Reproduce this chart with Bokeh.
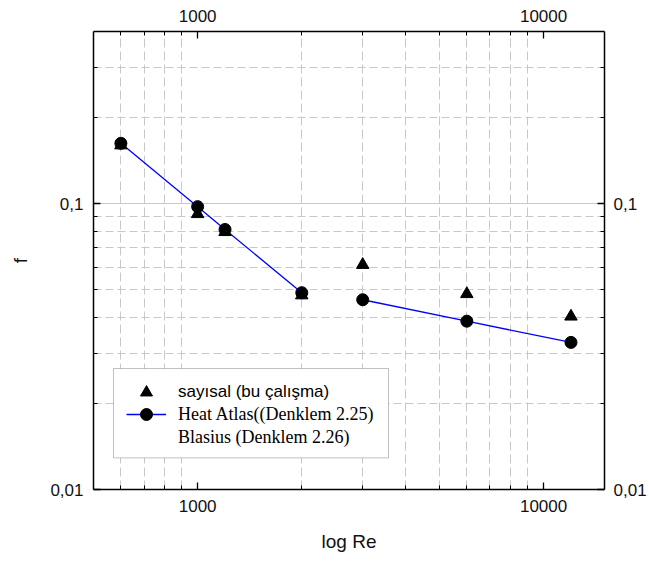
from bokeh.plotting import figure
from bokeh.models import (LogAxis, FixedTicker, CustomJSTickFormatter, Legend,
                          LegendItem, BoxAnnotation)
from bokeh.embed import file_html
from bokeh.resources import INLINE

# ---- data ----
re_num = [600, 1000, 1200, 2000, 3000, 6000, 12000]
f_num = [0.160, 0.092, 0.0796, 0.0478, 0.0611, 0.0483, 0.0403]

re_lam = [600, 1000, 1200, 2000]
f_lam = [0.1625, 0.0976, 0.0812, 0.0488]

re_turb = [3000, 6000, 12000]
f_turb = [0.0461, 0.0388, 0.0327]

x_major = [1000, 10000]
x_minor = [600, 700, 800, 900, 2000, 3000, 4000, 5000, 6000, 7000, 8000, 9000]
y_major = [0.01, 0.1]
y_minor = [0.02, 0.03, 0.04, 0.05, 0.06, 0.07, 0.08, 0.09, 0.2, 0.3]

legend_labels = ["sayısal (bu çalışma)", "Heat Atlas((Denklem 2.25)", "Blasius (Denklem 2.26)"]
x_label = "log Re"
y_label = "f"

SANS = "Liberation Sans"
SERIF = "Liberation Serif"
GRID = "#c8c8c8"

p = figure(width=649, height=565, x_axis_type="log", y_axis_type="log",
           x_range=(500, 15000), y_range=(0.01, 0.4),
           output_backend="svg", toolbar_location=None,
           min_border_left=93, min_border_right=43, min_border_top=31, min_border_bottom=76,
           x_axis_label=x_label, y_axis_label=y_label)
p.outline_line_color = None
p.background_fill_color = "white"

top_ax = LogAxis()
right_ax = LogAxis()
p.add_layout(top_ax, "above")
p.add_layout(right_ax, "right")

fmt_code = "return String(tick).replace('.', ',');"

def style_axis(ax, major, minor, standoff):
    ax.ticker = FixedTicker(ticks=major, minor_ticks=minor)
    ax.formatter = CustomJSTickFormatter(code=fmt_code)
    ax.major_tick_in = 7
    ax.major_tick_out = 0
    ax.minor_tick_in = 4
    ax.minor_tick_out = 0
    ax.major_tick_line_width = 1.3
    ax.minor_tick_line_width = 1
    ax.axis_line_width = 1.5
    ax.axis_line_color = "black"
    ax.major_tick_line_color = "black"
    ax.minor_tick_line_color = "black"
    ax.major_label_text_font = SANS
    ax.major_label_text_font_size = "17px"
    ax.major_label_text_color = "#111111"
    ax.major_label_standoff = standoff
    ax.axis_label_text_font = SANS
    ax.axis_label_text_font_size = "19px"
    ax.axis_label_text_font_style = "normal"
    ax.axis_label_text_color = "#111111"

style_axis(p.below[0], x_major, x_minor, 10)
style_axis(top_ax, x_major, x_minor, 10)
style_axis(p.left[0], y_major, y_minor, 10)
style_axis(right_ax, y_major, y_minor, 9)
p.below[0].axis_label_standoff = 16
p.left[0].axis_label_standoff = 16

# grids
p.xgrid.grid_line_color = None
p.xgrid.minor_grid_line_color = GRID
p.xgrid.minor_grid_line_dash = "9 4"
p.xgrid.minor_grid_line_width = 1
p.ygrid.grid_line_color = GRID
p.ygrid.grid_line_width = 1
p.ygrid.minor_grid_line_color = GRID
p.ygrid.minor_grid_line_dash = "8 4"
p.ygrid.minor_grid_line_width = 1

# data
l1 = p.line(re_lam, f_lam, line_color="#0000ff", line_width=1.3)
l2 = p.line(re_turb, f_turb, line_color="#0000ff", line_width=1.3)
tri = p.scatter(re_num, f_num, marker="triangle", size=12.5, color="black")
c1 = p.scatter(re_lam, f_lam, marker="circle", size=12, color="black")
c2 = p.scatter(re_turb, f_turb, marker="circle", size=12, color="black")
dummy = p.scatter(x=[], y=[], marker="circle", size=1, fill_alpha=0, line_alpha=0)

# legend frame
box = BoxAnnotation(left=20, right=295, bottom=31.6, top=121,
                    left_units="screen", right_units="screen",
                    bottom_units="screen", top_units="screen",
                    fill_color="white", fill_alpha=1.0,
                    line_color="#333333", line_width=1, level="annotation")
p.add_layout(box)

def make_legend(label, renderers, y, font):
    return Legend(items=[LegendItem(label=label, renderers=renderers)],
                  location=(33, y), padding=0, margin=0, spacing=0,
                  glyph_width=40, glyph_height=30, label_height=30,
                  label_standoff=12, label_text_font=font,
                  label_text_font_size="17px" if font == SANS else "18px",
                  label_text_color="black",
                  border_line_color=None, background_fill_alpha=0)

p.add_layout(make_legend(legend_labels[0], [tri], 82, SANS))
p.add_layout(make_legend(legend_labels[1], [l1, c1], 60, SERIF))
p.add_layout(make_legend(legend_labels[2], [dummy], 37, SERIF))

open("out.html", "w").write(file_html(p, INLINE))
